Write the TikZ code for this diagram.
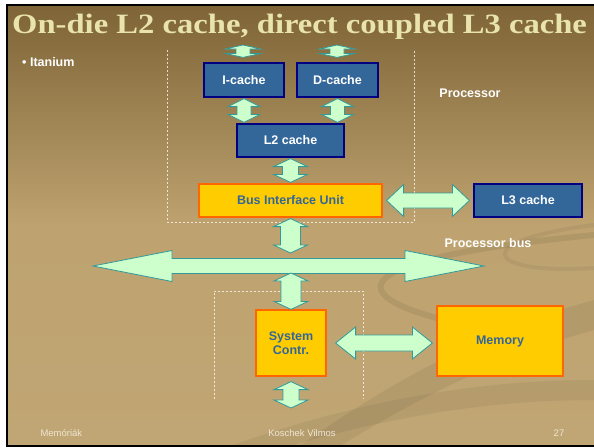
\documentclass[tikz,border=0pt]{standalone}
\usepackage{fontspec}
\setmainfont{Liberation Sans}
\newfontfamily\titlefont{Liberation Serif}
\usetikzlibrary{calc}

\definecolor{slidetop}{RGB}{126,100,54}
\definecolor{slidemid}{RGB}{190,163,112}
\definecolor{slidebot}{RGB}{192,166,116}
\definecolor{titlecol}{RGB}{232,228,172}
\definecolor{cacheblue}{RGB}{51,102,153}
\definecolor{cacheline}{RGB}{0,0,128}
\definecolor{unityellow}{RGB}{255,204,0}
\definecolor{unitline}{RGB}{255,102,0}
\definecolor{arrowgreen}{RGB}{204,255,204}
\definecolor{arrowline}{RGB}{51,153,153}
\definecolor{footcol}{RGB}{238,230,210}

\tikzset{
  cachebox/.style={draw=cacheline, fill=cacheblue, line width=1.2pt, inner sep=0pt,
    text=white, font=\bfseries\fontsize{12.5}{14}\selectfont},
  unitbox/.style={draw=unitline, fill=unityellow, line width=1.2pt, inner sep=0pt,
    text=cacheblue, align=center, font=\bfseries\fontsize{12.5}{14}\selectfont},
  arrowfill/.style={fill=arrowgreen, draw=arrowline, line width=0.8pt, line join=miter},
  tagtext/.style={text=white, font=\bfseries\fontsize{12.5}{14}\selectfont},
  foottext/.style={text=footcol, font=\fontsize{9.5}{11}\selectfont},
  chipline/.style={white, opacity=0.75, line width=0.6pt, dash pattern=on 2pt off 2pt}
}

% double block arrow: from, to, shaft half, head half, head length (pt)
\newcommand{\dblarrow}[5]{%
  \filldraw[arrowfill] (#1)
    -- ($(#1)!#5pt!(#2)!#4pt!90:(#2)$) -- ($(#1)!#5pt!(#2)!#3pt!90:(#2)$)
    -- ($(#2)!#5pt!(#1)!#3pt!-90:(#1)$) -- ($(#2)!#5pt!(#1)!#4pt!-90:(#1)$)
    -- (#2)
    -- ($(#2)!#5pt!(#1)!#4pt!90:(#1)$) -- ($(#2)!#5pt!(#1)!#3pt!90:(#1)$)
    -- ($(#1)!#5pt!(#2)!#3pt!-90:(#2)$) -- ($(#1)!#5pt!(#2)!#4pt!-90:(#2)$)
    -- cycle;}

\begin{document}
\begin{tikzpicture}[x=1pt,y=-1pt]
  \useasboundingbox (0,0) rectangle (594,447);
  \fill[white] (0,0) rectangle (594,447);
  \shade[top color=slidetop, bottom color=slidebot, middle color=slidemid] (6,5) rectangle (594,446);
  % swooshes
  \fill[black, opacity=0.06] (300,446) .. controls (420,360) and (520,320) .. (594,300)
    -- (594,330) .. controls (520,350) and (430,390) .. (340,446) -- cycle;
  \fill[black, opacity=0.05] (230,446) .. controls (360,400) and (480,380) .. (594,380)
    -- (594,400) .. controls (480,400) and (380,420) .. (290,446) -- cycle;
  \draw[black, opacity=0.07, line width=6pt] (490,330) .. controls (330,300) and (330,260) .. (594,235);
  \draw[black, opacity=0.05, line width=4pt] (594,268) .. controls (480,275) and (470,240) .. (594,225);
  \draw[black, line width=2pt] (7,447) -- (7,5) -- (594,5);
  \draw[black, line width=2pt] (6,446) -- (594,446);

  \node[text=titlecol, font=\titlefont\bfseries\fontsize{28}{32}\selectfont, anchor=base west,
    inner sep=0pt, xscale=1.165, transform shape] (title) at (12,33) {On-die L2 cache, direct coupled L3 cache};
  \node[tagtext, anchor=west, inner sep=0pt] (itanium) at (22,62) {\textbullet\ Itanium};

  % chip outlines
  \draw[chipline] (167,50) -- (167,222) -- (414,222) -- (414,50);
  \draw[chipline] (214,399) -- (214,291) -- (363,291) -- (363,399);

  % units
  \node[cachebox, minimum width=80pt, minimum height=34pt] (icache) at (244,80) {I-cache};
  \node[cachebox, minimum width=81pt, minimum height=34pt] (dcache) at (337.5,80) {D-cache};
  \node[cachebox, minimum width=107pt, minimum height=33pt] (ltwo) at (290.5,140.5) {L2 cache};
  \node[unitbox, minimum width=183pt, minimum height=33pt] (biu) at (290.5,200.5) {Bus Interface Unit};
  \node[cachebox, minimum width=108pt, minimum height=33pt] (lthree) at (528,200.5) {L3 cache};
  \node[unitbox, minimum width=70pt, minimum height=66pt] (sysc) at (291,343) {System\\Contr.};
  \node[unitbox, minimum width=126pt, minimum height=70pt] (mem) at (500,341) {Memory};

  \node[tagtext] (proclabel) at (470,93) {Processor};
  \node[tagtext] (buslabel) at (488,243) {Processor bus};

  \coordinate (itop) at (243,45);
  \coordinate (dtop) at (337,45);
  \coordinate (busL) at (93,266);
  \coordinate (busR) at (484,266);
  \coordinate (ioend) at (291,408);

  % connectors
  \dblarrow{itop}{[yshift=5pt]icache.north -| itop}{7}{18}{4}
  \dblarrow{dtop}{[yshift=5pt]dcache.north -| dtop}{7}{18}{4}
  \dblarrow{[yshift=-1pt]icache.south}{[yshift=1pt]icache.south |- ltwo.north}{7}{16}{8}
  \dblarrow{[yshift=-1pt]dcache.south}{[yshift=1pt]dcache.south |- ltwo.north}{7}{16}{8}
  \dblarrow{[yshift=-1pt]ltwo.south}{[yshift=1pt]ltwo.south |- biu.north}{8}{17}{8}
  \dblarrow{[yshift=-1pt]biu.south}{[yshift=13pt]biu.south |- busL}{10}{17}{8}
  \dblarrow{busL}{busR}{7.5}{15.5}{79}
  \dblarrow{[yshift=-7pt]sysc.north |- busL}{sysc.north}{10}{17}{8}
  \dblarrow{[xshift=9pt]sysc.east}{[xshift=-4pt]sysc.east -| mem.west}{8}{16}{20}
  \dblarrow{[xshift=4pt]biu.east}{[xshift=-4pt]lthree.west}{7.5}{16}{17}
  \dblarrow{[yshift=-5pt]sysc.south}{ioend}{8}{17}{8}

  % footer
  \node[foottext, anchor=west] (foottopic) at (37,433) {Memóriák};
  \node[foottext] (footauthor) at (302,433) {Koschek Vilmos};
  \node[foottext] (footpage) at (559,433) {27};
\end{tikzpicture}
\end{document}
